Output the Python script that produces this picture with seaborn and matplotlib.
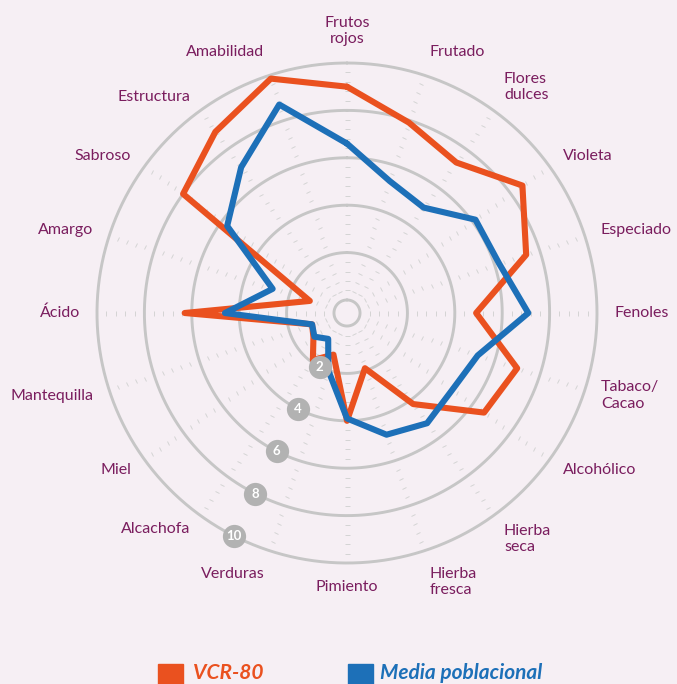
import numpy as np
import matplotlib
matplotlib.use("Agg")
import matplotlib.pyplot as plt
from matplotlib.markers import MarkerStyle
from matplotlib.transforms import Affine2D
from matplotlib.patches import Rectangle
import seaborn as sns

# Datos (escala 0-10)
categorias = ["Frutos\nrojos", "Frutado", "Flores\ndulces", "Violeta", "Especiado",
              "Fenoles", "Tabaco/\nCacao", "Alcohólico", "Hierba\nseca", "Hierba\nfresca",
              "Pimiento", "Verduras", "Alcachofa", "Miel", "Mantequilla",
              "Ácido", "Amargo", "Sabroso", "Estructura", "Amabilidad"]
vcr80 = [9.0, 7.9, 7.3, 8.6, 7.4, 4.9, 7.0, 6.6, 4.2, 1.9,
         4.0, 1.3, 1.9, 1.2, 1.0, 6.3, 1.1, 8.0, 8.9, 9.85]
media = [6.6, 5.3, 4.95, 6.15, 6.2, 7.1, 5.25, 4.95, 5.2, 4.85,
         3.9, 2.0, 0.8, 1.15, 1.0, 4.6, 2.75, 5.7, 7.05, 8.7]
anillos = [2, 4, 6, 8, 10]
series = ["VCR-80", "Media poblacional"]

# colores
fondo = "#f6eff4"
naranja = "#ea511f"
azul = "#1d70b8"
gris = "#c6c6c6"
texto = "#7a1d5e"

sns.set_style("white")
plt.rcParams['font.family'] = ['Lato', 'DejaVu Sans']

fig = plt.figure(figsize=(6.77, 6.84), dpi=100, facecolor=fondo)
ax = fig.add_axes([97/677, 121/684, 500/677, 500/684], projection="polar")
ax.set_theta_zero_location("N")
ax.set_theta_direction(-1)
ax.set_ylim(0, 10)
ax.set_rorigin(-0.55)
ax.axis("off")

n = len(categorias)
theta = np.arange(n) * 2 * np.pi / n
circ = np.linspace(0, 2 * np.pi, 400)

# anillos
for v in [0] + anillos:
    ax.plot(circ, np.full_like(circ, v), color=gris, lw=2.1, zorder=2, clip_on=False)

# marcas pequeñas sobre cada radio
marcas = [0.4 * k for k in range(1, 25) if k % 5 != 0]
for t in theta:
    m = MarkerStyle("_", transform=Affine2D().rotate_deg(-np.degrees(t)))
    ax.plot(np.full(len(marcas), t), marcas, ls="none", marker=m,
            markersize=3.6, markeredgewidth=0.7, color="#d4d4d4", zorder=1)

# series
th_c = np.append(theta, theta[0] + 2 * np.pi)
sns.lineplot(x=th_c, y=np.append(vcr80, vcr80[0]), ax=ax, sort=False, estimator=None,
             color=naranja, lw=4.4, solid_joinstyle="round", solid_capstyle="round", zorder=3)
sns.lineplot(x=th_c, y=np.append(media, media[0]), ax=ax, sort=False, estimator=None,
             color=azul, lw=4.4, solid_joinstyle="round", solid_capstyle="round", zorder=4)
ax.set_ylim(0, 10)
ax.axis("off")

# etiquetas de categorías
for t, lab in zip(theta, categorias):
    sx, cy = np.sin(t), np.cos(t)
    ha = "left" if sx > 0.25 else ("right" if sx < -0.25 else "center")
    va = "center" if abs(cy) < 0.9 else ("bottom" if cy > 0 else "top")
    dy = 0
    if "\n" in lab and 0.5 < abs(cy) < 0.9:
        dy = 7 * np.sign(cy)
    ax.annotate(lab, (t, 10.72), xytext=(0, dy), textcoords="offset points",
                ha=ha, va=va, multialignment=ha, fontsize=11.5,
                color=texto, annotation_clip=False)

# números de los anillos
ang = np.radians(207)
ax.scatter([ang] * len(anillos), anillos, s=280, color="#b2b2b2", zorder=6,
           linewidths=0, clip_on=False)
for v in anillos:
    ax.text(ang, v, str(v), ha="center", va="center", color="white",
            fontsize=9.5, fontweight="bold", zorder=7, clip_on=False)

# leyenda al pie
for x0, xt, c, lab in [(158, 193, naranja, series[0]), (348, 380, azul, series[1])]:
    fig.patches.append(Rectangle((x0 / 677, 0), 25 / 677, 20 / 684,
                                 transform=fig.transFigure, color=c))
    fig.text(xt / 677, 1 / 684, lab, ha="left", va="bottom", color=c,
             fontsize=15, fontweight="bold", fontstyle="italic",
             family=["Liberation Sans Narrow", "Lato"])

fig.savefig("out.png", dpi=100, facecolor=fondo)
